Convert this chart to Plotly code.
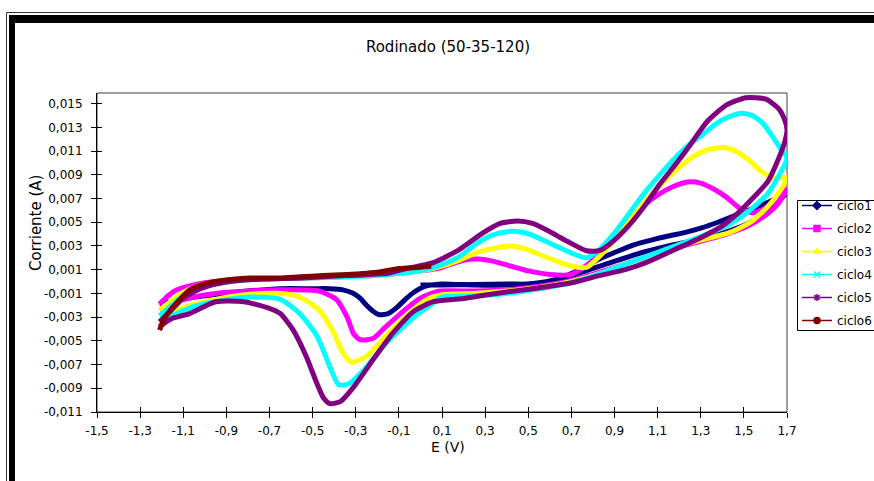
import plotly.graph_objects as go

# ---- cyclic voltammetry data: potential E (V) and current I (A) per cycle ----
ciclo1_E = [0.00, 0.10, 0.25, 0.40, 0.55, 0.65, 0.75, 0.83, 0.92, 0.99, 1.07, 1.14, 1.22, 1.30, 1.38, 1.45,
            1.52, 1.60, 1.66, 1.70, 1.66, 1.60, 1.52, 1.42, 1.30, 1.15, 1.00, 0.85, 0.70, 0.55, 0.40, 0.25,
            0.10, 0.02, -0.03, -0.07, -0.11, -0.15, -0.19, -0.22, -0.25, -0.28, -0.31, -0.36, -0.42, -0.50,
            -0.65, -0.80, -0.90, -1.00, -1.08, -1.15, -1.21]
ciclo1_I = [-0.0003, -0.0003, -0.00025, -0.0002, -0.0002, 0.0003, 0.0011, 0.0019, 0.0026, 0.0031, 0.0035,
            0.0038, 0.0041, 0.0045, 0.0050, 0.0055, 0.0060, 0.0066, 0.0071, 0.0075, 0.0068, 0.0058, 0.0049,
            0.0042, 0.0036, 0.0030, 0.0023, 0.0014, 0.0005, -0.0001, -0.0003, -0.0003, -0.0002, -0.0004,
            -0.0009, -0.0015, -0.0022, -0.0027, -0.0028, -0.0025, -0.0020, -0.0014, -0.0010, -0.0007,
            -0.0006, -0.0006, -0.0006, -0.0008, -0.0010, -0.0012, -0.0014, -0.0017, -0.0019]

ciclo2_E = [-1.21, -1.17, -1.13, -1.08, -1.00, -0.90, -0.75, -0.55, -0.35, -0.15, 0.00, 0.08, 0.13, 0.20,
            0.27, 0.34, 0.42, 0.50, 0.60, 0.70, 0.78, 0.86, 0.95, 1.03, 1.10, 1.17, 1.24, 1.30, 1.36, 1.42,
            1.48, 1.54, 1.60, 1.66, 1.70, 1.66, 1.60, 1.52, 1.42, 1.30, 1.15, 1.00, 0.85, 0.70, 0.55, 0.40,
            0.25, 0.09, 0.01, -0.06, -0.16, -0.22, -0.28, -0.31, -0.34, -0.39, -0.47, -0.65, -0.80, -0.95,
            -1.05, -1.13, -1.21]
ciclo2_I = [-0.0019, -0.0012, -0.0007, -0.0004, -0.0001, 0.0001, 0.0002, 0.0003, 0.0004, 0.0006, 0.0009,
            0.0011, 0.0014, 0.0018, 0.0019, 0.0017, 0.0013, 0.0009, 0.0006, 0.0006, 0.0015, 0.0030, 0.0048,
            0.0063, 0.0073, 0.0080, 0.0084, 0.0083, 0.0078, 0.0071, 0.0062, 0.0058, 0.0062, 0.0071, 0.0078,
            0.0066, 0.0056, 0.0047, 0.0040, 0.0034, 0.0027, 0.0018, 0.0009, 0.0001, -0.0004, -0.0007,
            -0.0008, -0.0008, -0.0013, -0.0022, -0.0038, -0.0048, -0.0049, -0.0044, -0.0030, -0.0015,
            -0.0008, -0.0007, -0.0008, -0.0010, -0.0013, -0.0017, -0.0024]

ciclo3_E = [-1.21, -1.16, -1.10, -1.02, -0.92, -0.75, -0.55, -0.35, -0.15, 0.00, 0.08, 0.18, 0.27, 0.34,
            0.41, 0.48, 0.55, 0.62, 0.68, 0.77, 0.85, 0.93, 1.00, 1.08, 1.15, 1.20, 1.26, 1.33, 1.40, 1.46,
            1.52, 1.58, 1.64, 1.70, 1.67, 1.61, 1.53, 1.43, 1.30, 1.15, 1.00, 0.85, 0.70, 0.55, 0.40, 0.25,
            0.10, 0.03, -0.06, -0.16, -0.25, -0.32, -0.36, -0.40, -0.47, -0.56, -0.65, -0.80, -0.95, -1.05,
            -1.13, -1.21]
ciclo3_I = [-0.0024, -0.0017, -0.0009, -0.0003, 0.0000, 0.0002, 0.0003, 0.0004, 0.0006, 0.0009, 0.0012,
            0.0018, 0.0025, 0.0028, 0.0030, 0.0028, 0.0023, 0.0018, 0.0014, 0.0012, 0.0025, 0.0042, 0.0058,
            0.0075, 0.0088, 0.0096, 0.0105, 0.0111, 0.0113, 0.0110, 0.0103, 0.0093, 0.0087, 0.0088, 0.0077,
            0.0063, 0.0050, 0.0041, 0.0035, 0.0027, 0.0018, 0.0008, 0.0000, -0.0005, -0.0008, -0.0010,
            -0.0011, -0.0015, -0.0028, -0.0046, -0.0063, -0.0068, -0.0060, -0.0044, -0.0024, -0.0013,
            -0.0010, -0.0011, -0.0015, -0.0019, -0.0024, -0.0029]

ciclo4_E = [-1.21, -1.16, -1.10, -1.02, -0.92, -0.75, -0.55, -0.35, -0.15, 0.00, 0.08, 0.18, 0.26, 0.33,
            0.40, 0.46, 0.52, 0.58, 0.64, 0.70, 0.77, 0.83, 0.90, 0.97, 1.04, 1.11, 1.18, 1.25, 1.31, 1.37,
            1.43, 1.49, 1.54, 1.59, 1.63, 1.67, 1.70, 1.67, 1.61, 1.52, 1.42, 1.30, 1.15, 1.00, 0.85, 0.70,
            0.55, 0.40, 0.25, 0.10, 0.06, -0.03, -0.16, -0.25, -0.33, -0.38, -0.42, -0.48, -0.56, -0.65,
            -0.80, -0.95, -1.05, -1.13, -1.21]
ciclo4_I = [-0.0029, -0.0021, -0.0012, -0.0005, -0.0001, 0.0002, 0.0003, 0.0004, 0.0006, 0.0009, 0.0013,
            0.0021, 0.0032, 0.0039, 0.0042, 0.0042, 0.0039, 0.0034, 0.0029, 0.0024, 0.0020, 0.0027, 0.0041,
            0.0058, 0.0075, 0.0090, 0.0104, 0.0116, 0.0124, 0.0133, 0.0139, 0.0142, 0.0140, 0.0133, 0.0123,
            0.0112, 0.0104, 0.0092, 0.0074, 0.0059, 0.0047, 0.0038, 0.0028, 0.0018, 0.0008, -0.0001,
            -0.0006, -0.0010, -0.0012, -0.0013, -0.0018, -0.0030, -0.0052, -0.0072, -0.0086, -0.0087,
            -0.0072, -0.0046, -0.0027, -0.0015, -0.0013, -0.0017, -0.0021, -0.0027, -0.0034]

ciclo5_E = [-1.21, -1.16, -1.10, -1.02, -0.92, -0.75, -0.55, -0.35, -0.15, -0.09, 0.06, 0.18, 0.29, 0.37,
            0.45, 0.52, 0.59, 0.68, 0.77, 0.83, 0.90, 0.97, 1.04, 1.11, 1.18, 1.25, 1.33, 1.42, 1.51, 1.60,
            1.66, 1.69, 1.70, 1.69, 1.65, 1.61, 1.54, 1.48, 1.40, 1.30, 1.18, 1.06, 0.95, 0.83, 0.70, 0.52,
            0.35, 0.21, 0.06, -0.03, -0.13, -0.22, -0.31, -0.37, -0.42, -0.45, -0.48, -0.53, -0.59, -0.65,
            -0.71, -0.82, -0.95, -1.07, -1.15, -1.21]
ciclo5_I = [-0.0034, -0.0025, -0.0014, -0.0006, -0.0001, 0.0002, 0.0003, 0.0005, 0.0007, 0.0010, 0.0016,
            0.0027, 0.0041, 0.0049, 0.0051, 0.0049, 0.0043, 0.0034, 0.0026, 0.0026, 0.0035, 0.0048, 0.0064,
            0.0082, 0.0098, 0.0115, 0.0135, 0.0149, 0.0155, 0.0154, 0.0146, 0.0136, 0.0128, 0.0118, 0.0099,
            0.0084, 0.0070, 0.0059, 0.0047, 0.0037, 0.0027, 0.0017, 0.0010, 0.0005, -0.0001, -0.0006,
            -0.0010, -0.0014, -0.0017, -0.0025, -0.0044, -0.0066, -0.0089, -0.0101, -0.0103, -0.0098,
            -0.0086, -0.0063, -0.0041, -0.0027, -0.0022, -0.0017, -0.0017, -0.0027, -0.0031, -0.0038]

ciclo6_E = [-1.21, -1.19, -1.16, -1.11, -1.07, -1.00, -0.95, -0.87, -0.79, -0.65, -0.56, -0.45, -0.34,
            -0.25, -0.19, -0.10, 0.00, 0.05]
ciclo6_I = [-0.0041, -0.0032, -0.0024, -0.0014, -0.0007, -0.0002, 0.0000, 0.0002, 0.0003, 0.0003, 0.0004,
            0.0005, 0.0006, 0.0007, 0.0008, 0.0011, 0.0012, 0.0013]

series_names = ["ciclo1", "ciclo2", "ciclo3", "ciclo4", "ciclo5", "ciclo6"]
series_E = [ciclo1_E, ciclo2_E, ciclo3_E, ciclo4_E, ciclo5_E, ciclo6_E]
series_I = [ciclo1_I, ciclo2_I, ciclo3_I, ciclo4_I, ciclo5_I, ciclo6_I]
series_colors = ["#000080", "#FF00FF", "#FFFF00", "#00FFFF", "#800080", "#800000"]
legend_symbols = ["diamond", "square", "triangle-up", "x-thin-open", "asterisk-open", "circle"]

x_tick_vals = [-1.5, -1.3, -1.1, -0.9, -0.7, -0.5, -0.3, -0.1, 0.1, 0.3, 0.5, 0.7, 0.9, 1.1, 1.3, 1.5, 1.7]
x_tick_text = ["-1,5", "-1,3", "-1,1", "-0,9", "-0,7", "-0,5", "-0,3", "-0,1", "0,1", "0,3", "0,5",
               "0,7", "0,9", "1,1", "1,3", "1,5", "1,7"]
y_tick_vals = [0.015, 0.013, 0.011, 0.009, 0.007, 0.005, 0.003, 0.001, -0.001, -0.003, -0.005, -0.007,
               -0.009, -0.011]
y_tick_text = ["0,015", "0,013", "0,011", "0,009", "0,007", "0,005", "0,003", "0,001", "-0,001",
               "-0,003", "-0,005", "-0,007", "-0,009", "-0,011"]

X_RANGE = [-1.5, 1.7]
Y_RANGE = [-0.011, 0.0159]

W, H = 874, 481
ML, MR, MT, MB = 97, 87, 93, 69
PW, PH = W - ML - MR, H - MT - MB
FONT = "DejaVu Sans"


def fx(px):
    """Canvas pixel column -> paper x."""
    return (px - ML) / PW


def fy(py):
    """Canvas pixel row -> paper y."""
    return (H - MB - py) / PH


fig = go.Figure()

for name, e, i, col in zip(series_names, series_E, series_I, series_colors):
    fig.add_trace(go.Scatter(
        x=e, y=i, mode="lines", name=name, showlegend=False, legendgroup=name,
        line=dict(color=col, width=5, shape="spline", smoothing=0.6),
        hoverinfo="skip",
    ))

# legend entries (line + marker sample), drawn on the overlay axes
for name, col, sym in zip(series_names, series_colors, legend_symbols):
    fig.add_trace(go.Scatter(
        x=[None], y=[None], mode="lines+markers", name=name, legendgroup=name,
        xaxis="x2", yaxis="y2",
        line=dict(color=col, width=1.5),
        marker=dict(symbol=sym, size=6, color=col, line=dict(color=col, width=1.5)),
    ))

axis_font = dict(family=FONT, size=12, color="black")

fig.update_layout(
    width=W, height=H,
    margin=dict(l=ML, r=MR, t=MT, b=MB, pad=0, autoexpand=False),
    paper_bgcolor="white", plot_bgcolor="white",
    font=dict(family=FONT, color="black"),
    title=dict(text="Rodinado (50-35-120)", x=448 / W, y=1 - 47 / H, xref="container", yref="container",
               xanchor="center", yanchor="middle", font=dict(family=FONT, size=15, color="black")),
    xaxis=dict(range=X_RANGE, tickvals=x_tick_vals, ticktext=x_tick_text, ticks="outside", ticklen=5,
               tickcolor="black", tickwidth=1, showline=True, linecolor="black", linewidth=1,
               showgrid=False, zeroline=False, tickfont=axis_font, fixedrange=True,
               ticklabelstandoff=3),
    yaxis=dict(range=Y_RANGE, tickvals=y_tick_vals, ticktext=y_tick_text, ticks="outside", ticklen=5,
               tickcolor="black", tickwidth=1, showline=True, linecolor="black", linewidth=1,
               showgrid=False, zeroline=False, tickfont=axis_font, fixedrange=True,
               ticklabelstandoff=6),
    xaxis2=dict(range=X_RANGE, overlaying="x", anchor="y", side="bottom", tickvals=x_tick_vals,
                ticks="inside", ticklen=5, tickcolor="black", showticklabels=False, showline=False,
                showgrid=False, zeroline=False, fixedrange=True),
    yaxis2=dict(range=Y_RANGE, overlaying="y", anchor="x", side="left", tickvals=y_tick_vals,
                ticks="inside", ticklen=5, tickcolor="black", showticklabels=False, showline=False,
                showgrid=False, zeroline=False, fixedrange=True),
    legend=dict(x=fx(797), y=fy(191), xanchor="left", yanchor="top", bgcolor="rgba(0,0,0,0)",
                borderwidth=0, font=dict(family=FONT, size=12, color="black"),
                tracegroupgap=4, itemwidth=30),
    showlegend=True,
)

fig.add_annotation(text="Corriente (A)", xref="paper", yref="paper", x=fx(25), y=fy(223),
                   textangle=-90, showarrow=False, font=dict(family=FONT, size=15, color="black"))
fig.add_annotation(text="E (V)", xref="paper", yref="paper", x=fx(448), y=fy(457),
                   showarrow=False, font=dict(family=FONT, size=14, color="black"))

# plot-area frame (top / right edges in dark grey)
fig.add_shape(type="rect", xref="paper", yref="paper", x0=0, x1=1, y0=0, y1=1,
              line=dict(color="#404040", width=1), layer="below")

# legend frame: white panel, ruled on top, left and bottom (the right side runs off the page)
fig.add_shape(type="rect", xref="paper", yref="paper", x0=fx(797.5), x1=fx(W), y0=fy(330.5),
              y1=fy(200.5), line=dict(width=0), fillcolor="white")
for x0, y0, x1, y1 in [(797.5, 200.5, W, 200.5), (797.5, 200.5, 797.5, 330.5), (797.5, 330.5, W, 330.5)]:
    fig.add_shape(type="line", xref="paper", yref="paper", x0=fx(x0), y0=fy(y0), x1=fx(x1), y1=fy(y1),
                  line=dict(color="black", width=1))

# chart border: thin outer rule (left and top) plus heavy black band
fig.add_shape(type="line", xref="paper", yref="paper", x0=fx(6.5), y0=fy(12.5), x1=fx(W), y1=fy(12.5),
              line=dict(color="#333333", width=1))
fig.add_shape(type="line", xref="paper", yref="paper", x0=fx(6.5), y0=fy(12.5), x1=fx(6.5), y1=fy(H),
              line=dict(color="#333333", width=1))
fig.add_shape(type="rect", xref="paper", yref="paper", x0=fx(9), x1=fx(15), y0=fy(H), y1=fy(15),
              line=dict(width=0), fillcolor="black")
fig.add_shape(type="rect", xref="paper", yref="paper", x0=fx(9), x1=fx(W), y0=fy(23), y1=fy(15),
              line=dict(width=0), fillcolor="black")

fig.write_html("out.html")
